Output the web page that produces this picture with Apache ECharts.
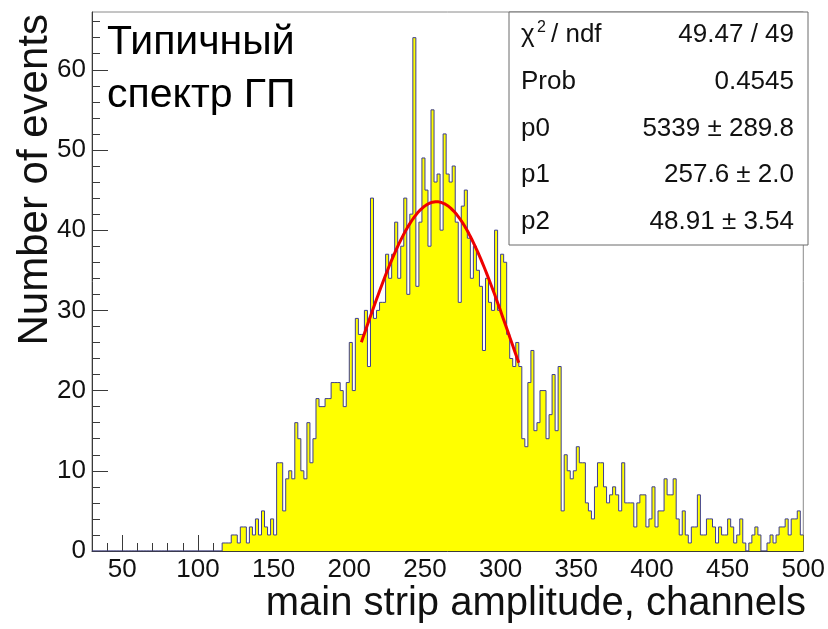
<!DOCTYPE html>
<html>
<head>
<meta charset="utf-8">
<script src="https://cdn.jsdelivr.net/npm/echarts@6/dist/echarts.min.js"></script>
<style>
  html, body { margin: 0; padding: 0; background: #ffffff; }
  #chart { width: 828px; height: 629px; }
</style>
</head>
<body>
<div id="chart"></div>
<script>
// Histogram of main strip amplitude: 2-channel bins starting at channel 30
const binStart = 30;
const binWidth = 2;
const binEnd = 500;

// Bins 30..112 are empty
const emptyBins = new Array(42).fill(0);
// Bins 114..498
const filledBins = [
  0, 1, 1, 1, 2, 2, 1, 3, 3, 1,
  3, 2, 4, 2, 5, 3, 2, 4, 2, 11,
  11, 5, 9, 10, 9, 16, 14, 10, 9, 16,
  11, 14, 19, 18, 18, 19, 19, 21, 21, 21,
  20, 18, 21, 26, 20, 29, 27, 27, 30, 23,
  44, 29, 30, 31, 31, 37, 34, 37, 41, 34,
  38, 44, 32, 42, 64, 33, 41, 49, 45, 38,
  55, 46, 47, 40, 52, 47, 46, 48, 41, 31,
  43, 45, 39, 34, 38, 35, 33, 25, 34, 31,
  30, 40, 30, 37, 36, 27, 24, 23, 26, 23,
  14, 13, 21, 25, 15, 16, 20, 20, 14, 17,
  22, 15, 23, 5, 12, 10, 9, 10, 13, 11,
  11, 6, 5, 4, 8, 11, 11, 8, 6, 7,
  8, 7, 5, 11, 6, 6, 6, 3, 6, 7,
  7, 3, 4, 8, 3, 5, 5, 9, 7, 7,
  9, 4, 2, 5, 2, 1, 3, 3, 7, 2,
  2, 4, 4, 3, 1, 3, 2, 2, 4, 3,
  1, 2, 4, 1, 0, 1, 2, 3, 2, 0,
  0, 1, 2, 1, 2, 3, 3, 4, 2, 4,
  4, 5, 2
];
const counts = emptyBins.concat(filledBins);

// Gaussian fit parameters (normalised form) and fit range
const fitParams = [5339, 257.6, 48.91];
const fitRange = [208, 312];

// Axis ticks
const xMajorTicks = [50, 100, 150, 200, 250, 300, 350, 400, 450, 500];
const xMinorTicks = [40, 50, 60, 70, 80, 90, 100, 110, 120, 130, 140, 150, 160, 170, 180, 190,
  200, 210, 220, 230, 240, 250, 260, 270, 280, 290, 300, 310, 320, 330, 340, 350, 360, 370,
  380, 390, 400, 410, 420, 430, 440, 450, 460, 470, 480, 490];
const yMajorTicks = [0, 10, 20, 30, 40, 50, 60];
const yMinorTicks = [2, 4, 6, 8, 12, 14, 16, 18, 22, 24, 26, 28, 32, 34, 36, 38, 42, 44, 46, 48,
  52, 54, 56, 58, 62, 64, 66];
const yMax = 67.2;

// Fit statistics box rows
const statNames = ['Prob', 'p0', 'p1', 'p2'];
const statValues = ['49.47 / 49', '0.4545', '5339 \u00b1 289.8', '257.6 \u00b1 2.0', '48.91 \u00b1 3.54'];

const xTitle = 'main strip amplitude, channels';
const yTitle = 'Number of events';
const noteLines = ['Типичный', 'спектр ГП'];

// ---- build series data ----
const histData = counts.map((c, i) => [binStart + i * binWidth, c]);
histData.push([binEnd, counts[counts.length - 1]]);

function fitFunc(x) {
  const [p0, p1, p2] = fitParams;
  const z = (x - p1) / p2;
  return p0 / (Math.sqrt(2 * Math.PI) * p2) * Math.exp(-0.5 * z * z);
}
const fitData = [];
for (let x = fitRange[0]; x <= fitRange[1]; x += 1) fitData.push([x, fitFunc(x)]);

const FONT = '"Liberation Sans", Arial, Helvetica, sans-serif';
const axisColor = '#3a3a3a';

const chart = echarts.init(document.getElementById('chart'), null, { renderer: 'canvas' });

const gridL = 92, gridR = 21, gridT = 12, gridB = 78;

const boxX = 509, boxY = 12, boxW = 299, boxH = 233;
const rowH = boxH / 5;
const graphics = [
  { type: 'rect', z: 100, shape: { x: boxX, y: boxY, width: boxW, height: boxH },
    style: { fill: '#ffffff', stroke: '#6a6a6a', lineWidth: 1 } },
  { type: 'text', z: 101, x: 521, y: boxY + rowH * 0.5,
    style: { text: '\u03c7', font: '26px ' + FONT, fill: '#111', verticalAlign: 'middle', align: 'left' } },
  { type: 'text', z: 101, x: 537, y: boxY + rowH * 0.5 - 8,
    style: { text: '2', font: '16px ' + FONT, fill: '#111', verticalAlign: 'middle', align: 'left' } },
  { type: 'text', z: 101, x: 551, y: boxY + rowH * 0.5,
    style: { text: '/ ndf', font: '26px ' + FONT, fill: '#111', verticalAlign: 'middle', align: 'left' } }
];
statNames.forEach((n, i) => {
  graphics.push({ type: 'text', z: 101, x: 521, y: boxY + rowH * (i + 1.5),
    style: { text: n, font: '26px ' + FONT, fill: '#111', verticalAlign: 'middle', align: 'left' } });
});
statValues.forEach((v, i) => {
  graphics.push({ type: 'text', z: 101, x: 794, y: boxY + rowH * (i + 0.5),
    style: { text: v, font: '26px ' + FONT, fill: '#111', verticalAlign: 'middle', align: 'right' } });
});
noteLines.forEach((t, i) => {
  graphics.push({ type: 'text', z: 101, x: 107, y: 43 + i * 53,
    style: { text: t, font: '41px ' + FONT, fill: '#000', verticalAlign: 'middle', align: 'left' } });
});
graphics.push({ type: 'text', z: 101, x: 806, y: 604,
  style: { text: xTitle, font: '40px ' + FONT, fill: '#111', verticalAlign: 'middle', align: 'right' } });
graphics.push({ type: 'text', z: 101, x: 35, y: 14, rotation: Math.PI / 2,
  style: { text: yTitle, font: '42px ' + FONT, fill: '#111', verticalAlign: 'middle', align: 'right' } });

const option = {
  animation: false,
  backgroundColor: '#ffffff',
  grid: { left: gridL, right: gridR, top: gridT, bottom: gridB, show: true,
    borderColor: '#8a8a8a', borderWidth: 1, backgroundColor: 'transparent' },
  xAxis: [
    { type: 'value', min: binStart, max: binEnd, position: 'bottom',
      axisLine: { show: true, lineStyle: { color: axisColor, width: 1 } },
      axisTick: { show: true, inside: true, length: 16, customValues: xMajorTicks,
        lineStyle: { color: axisColor, width: 1 } },
      axisLabel: { show: true, customValues: xMajorTicks, margin: 6, color: '#111',
        fontSize: 26, fontFamily: FONT },
      splitLine: { show: false } },
    { type: 'value', min: binStart, max: binEnd, position: 'bottom',
      axisLine: { show: false },
      axisTick: { show: true, inside: true, length: 8, customValues: xMinorTicks,
        lineStyle: { color: axisColor, width: 1 } },
      axisLabel: { show: false },
      splitLine: { show: false } }
  ],
  yAxis: [
    { type: 'value', min: 0, max: yMax, position: 'left',
      axisLine: { show: true, lineStyle: { color: axisColor, width: 1 } },
      axisTick: { show: true, inside: true, length: 16, customValues: yMajorTicks,
        lineStyle: { color: axisColor, width: 1 } },
      axisLabel: { show: true, customValues: yMajorTicks, margin: 6, color: '#111',
        fontSize: 26, fontFamily: FONT },
      splitLine: { show: false } },
    { type: 'value', min: 0, max: yMax, position: 'left',
      axisLine: { show: false },
      axisTick: { show: true, inside: true, length: 8, customValues: yMinorTicks,
        lineStyle: { color: axisColor, width: 1 } },
      axisLabel: { show: false },
      splitLine: { show: false } }
  ],
  series: [
    { type: 'line', name: 'hist', xAxisIndex: 0, yAxisIndex: 0, step: 'end',
      data: histData, symbol: 'none', z: 2,
      lineStyle: { color: '#3d3d8f', width: 1 },
      areaStyle: { color: '#ffff00', opacity: 1 } },
    { type: 'line', name: 'fit', xAxisIndex: 0, yAxisIndex: 0, data: fitData,
      symbol: 'none', smooth: false, z: 3,
      lineStyle: { color: '#ee0000', width: 3 } }
  ],
  graphic: graphics
};

chart.setOption(option);
</script>
</body>
</html>
